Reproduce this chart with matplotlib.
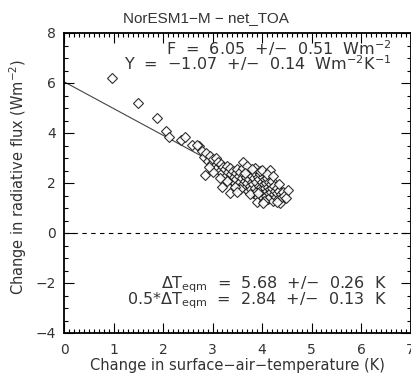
import matplotlib
matplotlib.use('Agg')
import matplotlib.pyplot as plt
from matplotlib.ticker import MultipleLocator

plt.rcParams['font.family'] = ['DejaVu Sans']
plt.rcParams['mathtext.fontset'] = 'dejavusans'

# Inputs
title = 'NorESM1\u2212M \u2212 net_TOA'
F, F_err = 6.05, 0.51
Y, Y_err = -1.07, 0.14
dT, dT_err = 5.68, 0.26
half_dT, half_dT_err = 2.84, 0.13

# early years
dt_early = [0.97, 1.49, 1.88, 2.06, 2.12, 2.36, 2.44, 2.58, 2.73, 2.68, 2.85]
dn_early = [6.20, 5.20, 4.60, 4.08, 3.84, 3.72, 3.84, 3.52, 3.48, 3.52, 2.32]

# main cluster (approximate)
dt_cluster = [2.78, 2.82, 2.86, 2.90, 2.95, 2.98, 3.02, 3.05, 3.08, 3.10,
              3.12, 3.15, 3.18, 3.20, 3.22, 3.25, 3.28, 3.30, 3.32, 3.35,
              3.36, 3.38, 3.40, 3.42, 3.44, 3.45, 3.47, 3.48, 3.50, 3.52,
              3.53, 3.55, 3.56, 3.58, 3.60, 3.61, 3.62, 3.64, 3.65, 3.66,
              3.68, 3.70, 3.71, 3.72, 3.74, 3.75, 3.76, 3.78, 3.79, 3.80,
              3.81, 3.82, 3.84, 3.85, 3.86, 3.87, 3.88, 3.90, 3.91, 3.92,
              3.93, 3.94, 3.95, 3.96, 3.98, 3.99, 4.00, 4.01, 4.02, 4.03,
              4.04, 4.05, 4.06, 4.07, 4.08, 4.09, 4.10, 4.11, 4.12, 4.13,
              4.14, 4.15, 4.16, 4.17, 4.18, 4.19, 4.20, 4.21, 4.22, 4.24,
              4.25, 4.26, 4.28, 4.30, 4.31, 4.33, 4.35, 4.36, 4.38, 4.40,
              4.42, 4.45, 4.48, 4.53, 3.62, 3.70, 3.85, 3.95, 4.00, 4.16,
              3.35, 3.20, 3.90, 4.05, 4.30, 3.55, 3.75, 3.45, 4.10, 3.80,
              3.65, 3.92, 4.22, 4.35, 3.30, 3.15, 3.00, 2.92, 3.50, 4.02]
dn_cluster = [3.30, 3.05, 3.20, 2.90, 3.10, 2.80, 2.95, 2.70, 3.00, 2.60,
              2.85, 2.50, 2.75, 2.40, 2.65, 2.55, 2.30, 2.70, 2.45, 2.20,
              2.60, 2.35, 2.10, 2.50, 2.25, 2.00, 2.40, 2.15, 2.55, 1.95,
              2.30, 2.05, 2.45, 1.85, 2.20, 2.60, 1.95, 2.35, 2.10, 1.80,
              2.25, 2.00, 2.45, 1.70, 2.15, 1.90, 2.35, 1.75, 2.05, 2.30,
              1.60, 1.95, 2.20, 1.80, 2.40, 1.55, 2.05, 1.70, 2.25, 1.45,
              1.90, 2.15, 1.65, 2.35, 1.85, 1.50, 2.05, 1.75, 2.25, 1.40,
              1.95, 1.65, 2.15, 1.80, 1.50, 2.00, 1.70, 2.20, 1.35, 1.85,
              1.60, 2.05, 1.75, 1.45, 1.95, 1.65, 2.10, 1.80, 1.30, 1.55,
              1.90, 1.70, 1.45, 1.80, 1.60, 1.35, 1.70, 1.20, 1.55, 1.45,
              1.65, 1.50, 1.40, 1.72, 2.84, 2.70, 2.60, 2.50, 2.52, 2.52,
              1.60, 1.84, 1.24, 1.30, 1.25, 1.75, 1.55, 1.85, 2.35, 2.55,
              2.40, 1.60, 2.30, 1.95, 2.10, 2.20, 2.45, 2.65, 1.65, 1.20]

dt_all = dt_early + dt_cluster
dn_all = dn_early + dn_cluster

fit_x = [0.0, 4.5]

fig = plt.figure(figsize=(4.11, 3.75), dpi=100)
ax = fig.add_axes([64 / 411, 42 / 375, 346.5 / 411, 300 / 375])

ax.plot(fit_x, [F + Y * v for v in fit_x], color='#444444', lw=0.8, zorder=1)
ax.plot(dt_all, dn_all, linestyle='none', marker='D', ms=5.5,
        mfc='white', mec='#1a1a1a', mew=0.8, alpha=0.9, zorder=2)
ax.axhline(0, color='black', lw=0.8, ls=(0, (4, 4)))

ax.set_xlim(0, 7)
ax.set_ylim(-4, 8)
ax.xaxis.set_major_locator(MultipleLocator(1))
ax.xaxis.set_minor_locator(MultipleLocator(0.1))
ax.yaxis.set_major_locator(MultipleLocator(2))
ax.yaxis.set_minor_locator(MultipleLocator(0.5))
ax.tick_params(which='both', direction='in', top=True, right=True,
               labelsize=10, labelcolor='#333333', width=0.8)
ax.tick_params(which='major', length=7)
ax.tick_params(which='minor', length=3)
ax.tick_params(axis='x', pad=7)
ax.tick_params(axis='y', pad=6)
for s in ax.spines.values():
    s.set_linewidth(1.3)

# title is centred on the whole window, not on the axes
fig.text(0.5, 1 - 22 / 375, title, ha='center', va='baseline',
         fontsize=11, color='#333333', family='Liberation Sans')
ax.set_xlabel('Change in surface\u2212air\u2212temperature (K)', fontsize=10.5, color='#333333', labelpad=1)
ax.set_ylabel('Change in radiative flux (Wm$^{-2}$)', fontsize=10.5, color='#333333')
ax.yaxis.set_label_coords(-0.10, 0.52)

tkw = dict(transform=ax.transData, ha='right', fontsize=11.5, color='#333333')
ax.text(6.62, 7.12, 'F  =  %.2f  +/\u2212  %.2f  Wm$^{-2}$' % (F, F_err), **tkw)
ax.text(6.62, 6.52, 'Y  =  \u2212%.2f  +/\u2212  %.2f  Wm$^{-2}$K$^{-1}$' % (-Y, Y_err), **tkw)
ax.text(6.52, -2.2, '$\\Delta$T$_{\\rm eqm}$  =  %.2f  +/\u2212  %.2f  K' % (dT, dT_err), **tkw)
ax.text(6.52, -2.85, '0.5*$\\Delta$T$_{\\rm eqm}$  =  %.2f  +/\u2212  %.2f  K' % (half_dT, half_dT_err), **tkw)

fig.savefig('out.png', dpi=100)
